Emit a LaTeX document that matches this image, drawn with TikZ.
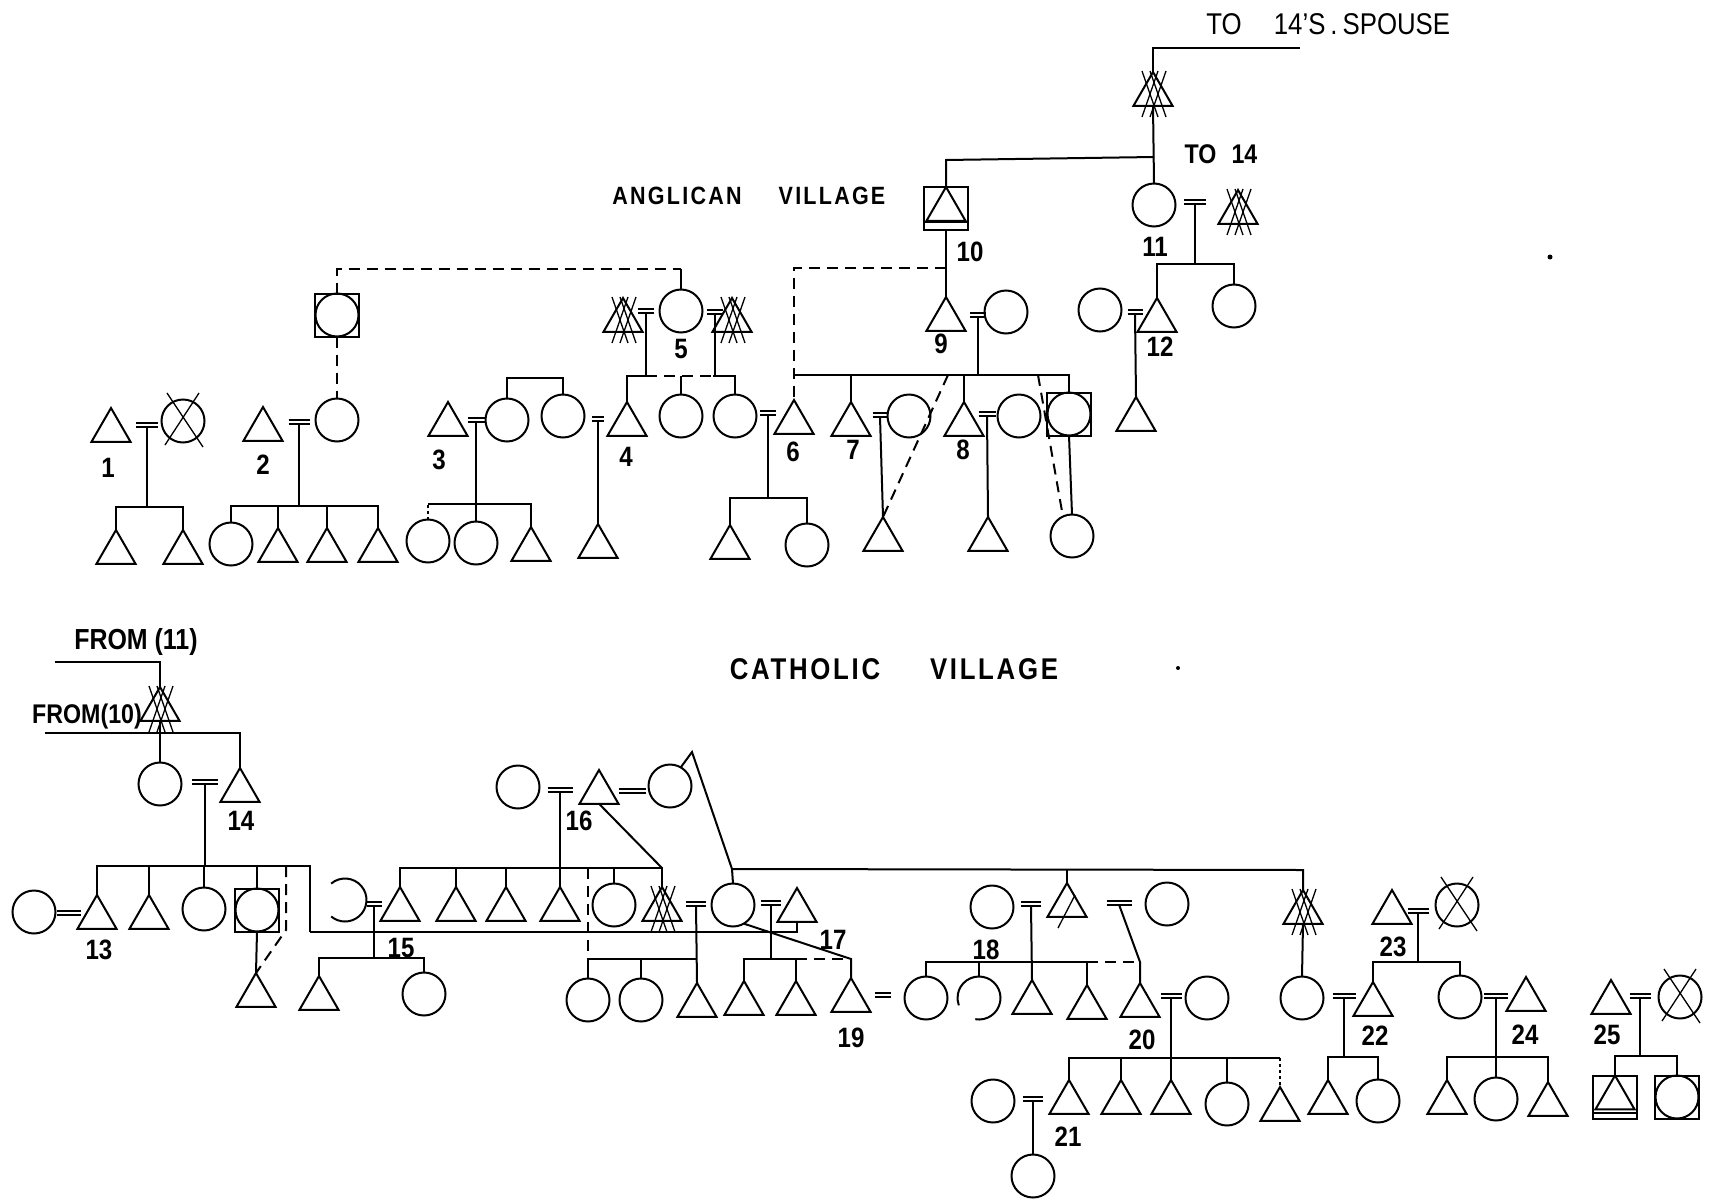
\documentclass[tikz,border=0pt]{standalone}
\usepackage{fontspec}
\setmainfont{Liberation Sans}[FakeStretch=0.86]
\newfontfamily\spacedfont{Liberation Sans}[FakeStretch=0.86,LetterSpace=9]
\usetikzlibrary{shapes.geometric}
\newcommand\marr[4]{\node[mk, minimum width=#4pt] (#1) at (#2,#3) {};
  \draw (#1.north west) -- (#1.north east) (#1.south west) -- (#1.south east);}
\newcommand\mkdx[1]{\draw[xl] ([shift={(-11pt,1pt)}]#1.corner 1) -- ([shift={(5pt,-45pt)}]#1.corner 1)
   ([shift={(5pt,1pt)}]#1.corner 1) -- ([shift={(-11pt,-45pt)}]#1.corner 1)
   ([shift={(-3pt,1pt)}]#1.corner 1) -- ([shift={(13pt,-45pt)}]#1.corner 1)
   ([shift={(13pt,1pt)}]#1.corner 1) -- ([shift={(-3pt,-45pt)}]#1.corner 1);}
\newcommand\mksx[1]{\draw[xl] ([shift={(8pt,-12pt)}]#1.corner 1) -- ([shift={(-9pt,-45pt)}]#1.corner 1);}
\newcommand\mkcx[1]{\draw[xl] ([shift={(-16pt,28pt)}]#1.center) -- ([shift={(20pt,-26pt)}]#1.center)
   ([shift={(16pt,28pt)}]#1.center) -- ([shift={(-18pt,-24pt)}]#1.center);}
\begin{document}
\begin{tikzpicture}[x=1pt,y=-1pt,line width=2pt,
  pers/.style={draw,inner sep=0pt,outer sep=0pt,line width=2pt},
  tri/.style={pers,regular polygon,regular polygon sides=3,minimum size=45pt,anchor=corner 1},
  cir/.style={pers,circle,minimum size=43pt},
  opn/.style={inner sep=0pt,outer sep=0pt,circle,minimum size=43pt},
  sqr/.style={pers,rectangle,minimum width=44pt,minimum height=43pt},
  mk/.style={inner sep=0pt,outer sep=0pt,minimum height=4pt},
  xl/.style={line width=1.3pt},
  dsh/.style={dash pattern=on 11pt off 7pt},
  dot/.style={dash pattern=on 3pt off 3pt},
  lbl/.style={inner sep=0pt,font=\fontsize{28}{30}\selectfont\bfseries},
  ttlA/.style={inner sep=0pt,font=\fontsize{30}{32}\selectfont},
  ttlB/.style={inner sep=0pt,font=\fontsize{27}{29}\selectfont\bfseries},
  ttlV/.style={inner sep=0pt,font=\spacedfont\fontsize{25}{27}\selectfont\bfseries},
  ttlW/.style={inner sep=0pt,font=\spacedfont\fontsize{30}{32}\selectfont\bfseries},
  ttlF/.style={inner sep=0pt,font=\fontsize{29}{31}\selectfont\bfseries},
  ttlG/.style={inner sep=0pt,font=\fontsize{27}{29}\selectfont\bfseries}]
\useasboundingbox (0,0) rectangle (1712,1199);
\fill[white] (0,0) rectangle (1712,1199);

% ================= TOP: ANGLICAN VILLAGE =================
\node[ttlA] (tA1) at (1224,24) {TO};
\node[ttlA] (tA2) at (1362,24) {14'S\,.\,SPOUSE};
\node[ttlB] (tB) at (1221,154) {TO\hspace{15pt}14};
\node[ttlV] (tAng1) at (677,196) {ANGLICAN};
\node[ttlV] (tAng2) at (832,196) {VILLAGE};

\coordinate (sp) at (1300,48);
\node[tri] (xA) at (1153,72) {}; \mkdx{xA}
\draw (sp) -| (xA.corner 1);
\node[cir] (c11) at (1154,205) {};
\draw (xA.south) -- (c11.north);
\coordinate (j11) at (1154,157);
\coordinate (j10) at (946,160);
\node[sqr] (q10) at (946,208.5) {};
\node[tri] (q10t) at (q10.north) {};
\draw ([yshift=8pt]q10.south west) -- ([yshift=8pt]q10.south east);
\draw (j11) -- (j10) -- (q10.north);
\node[lbl] (l10) at (970,252) {10};

\node[tri] (t9) at (946,297) {};
\draw (q10.south) -- (t9.corner 1);
\coordinate (d10) at (946,268);
\node[tri] (t6) at (794,400) {};
\draw[dsh] (d10) -| (t6.corner 1);
\node[cir] (c9w) at (1006,312) {};
\marr{m9}{978}{314.5}{16}
\node[lbl] (l9) at (941,344) {9};
\coordinate (s9a) at (794,375);
\coordinate (s9b) at (1069,375);
\node[sqr] (q9) at (1069,414) {}; \node[cir] (q9c) at (q9) {};
\draw (s9a) -- (s9b) -- (q9.north);
\draw (m9.south) -- (m9.south |- s9a);
\node[tri] (t7) at (851,402) {};
\draw (t7.corner 1 |- s9a) -- (t7.corner 1);
\node[cir] (c7w) at (909,416) {};
\marr{m7}{880}{415}{15}
\node[tri] (t7c) at (883,517) {};
\draw (m7.south) -- (t7c.corner 1);
\coordinate (q7) at (948,375);
\draw[dsh] (q7) -- (t7c.corner 1);
\node[lbl] (l7) at (853,450) {7};
\node[tri] (t8) at (964,402) {};
\draw (t8.corner 1 |- s9a) -- (t8.corner 1);
\node[cir] (c8w) at (1019,416) {};
\marr{m8}{987}{414}{17}
\node[tri] (t8c) at (988,517) {};
\draw (m8.south) -- (t8c.corner 1);
\node[lbl] (l8) at (963,450) {8};
\node[cir] (c9g) at (1072,536) {};
\draw (q9.south) -- (c9g.north);
\coordinate (q8) at (1038,375);
\draw[dsh] (q8) -- (c9g.115);

\node[cir] (c5) at (681,311) {};
\node[lbl] (l5) at (681,349) {5};
\coordinate (k5) at (681,269);
\draw (k5) -- (c5.north);
\node[sqr] (q2) at (337,315) {}; \node[cir] (q2c) at (q2) {};
\draw[dsh] (q2.north) |- (k5);
\node[tri] (xL5) at (623,298) {}; \mkdx{xL5}
\node[tri] (xR5) at (732,298) {}; \mkdx{xR5}
\marr{mL5}{646}{311}{16}
\marr{mR5}{715}{312}{16}
\coordinate (h5b) at (646,376);
\coordinate (h5c) at (713,376);
\node[tri] (t4) at (627,402) {};
\node[cir] (c5m) at (681,416) {};
\node[cir] (c5d) at (735,416) {};
\draw (t4.corner 1) |- (h5b);
\draw[dsh] (h5b) -- (h5c);
\draw (h5c) -| (c5d.north);
\draw (mL5.south) -- (h5b);
\draw (mR5.south) -- (mR5.south |- h5c);
\draw (c5m.north) -- (c5m.north |- h5b);
\node[lbl] (l4) at (626,457) {4};

\marr{m6}{768}{413}{16}
\coordinate (s6a) at (730,498);
\coordinate (s6b) at (807,498);
\node[tri] (t6a) at (730,525) {};
\node[cir] (c6b) at (807,545) {};
\draw (t6a.corner 1) |- (s6b) -- (c6b.north);
\draw (m6.south) -- (m6.south |- s6a);
\node[lbl] (l6) at (793,452) {6};

\node[tri] (t1) at (111,408) {};
\node[cir] (c1w) at (183,421) {}; \mkcx{c1w}
\marr{m1}{147}{424.5}{22}
\coordinate (s1a) at (116,507);
\node[tri] (t1a) at (116,530) {};
\node[tri] (t1b) at (183,530) {};
\draw (t1a.corner 1) |- (t1b.corner 1 |- s1a) -- (t1b.corner 1);
\draw (m1.south) -- (m1.south |- s1a);
\node[lbl] (l1) at (108,468) {1};

\node[tri] (t2) at (263,407) {};
\node[cir] (c2w) at (337,420) {};
\draw[dsh] (q2.south) -- (c2w.north);
\marr{m2}{299}{421.5}{21}
\coordinate (s2) at (229,506);
\node[cir] (c2a) at (231,544) {};
\node[tri] (t2b) at (278,528) {};
\node[tri] (t2c) at (327,528) {};
\node[tri] (t2d) at (378,528) {};
\draw (c2a.north) |- (t2d.corner 1 |- s2) -- (t2d.corner 1);
\draw (t2b.corner 1) -- (t2b.corner 1 |- s2);
\draw (t2c.corner 1) -- (t2c.corner 1 |- s2);
\draw (m2.south) -- (m2.south |- s2);
\node[lbl] (l2) at (263,465) {2};

\node[tri] (t3) at (448,402) {};
\node[cir] (c3w) at (507,420) {};
\node[cir] (c3s) at (563,416) {};
\coordinate (g3) at (535,378);
\draw (c3w.north) |- (g3) -| (c3s.north);
\marr{m3}{476}{420}{17}
\coordinate (s3) at (428,504);
\node[cir] (c3a) at (428,541) {};
\node[cir] (c3b) at (476,543) {};
\node[tri] (t3c) at (531,527) {};
\draw[dot] (c3a.north) -- (c3a.north |- s3);
\draw (c3a.north |- s3) -| (t3c.corner 1);
\draw (m3.south) -- (c3b.north);
\node[lbl] (l3) at (439,460) {3};
\marr{mC}{598}{419}{12}
\node[tri] (tC) at (598,524) {};
\draw (mC.south) -- (tC.corner 1);

\node[tri] (xB) at (1238,190) {}; \mkdx{xB}
\marr{m11}{1195}{202}{22}
\coordinate (s11) at (1157,264);
\node[tri] (t12) at (1157,298) {};
\node[cir] (c11b) at (1234,306) {};
\draw (t12.corner 1) |- (c11b.north |- s11) -- (c11b.north);
\draw (m11.south) -- (m11.south |- s11);
\node[lbl] (l11) at (1155,247) {11};
\node[cir] (c12w) at (1100,310) {};
\marr{m12}{1135}{312}{15}
\node[tri] (t12c) at (1136,397) {};
\draw (m12.south) -- (t12c.corner 1);
\node[lbl] (l12) at (1160,347) {12};
\fill (1550,257) circle[radius=2.5pt];

% ================= BOTTOM: CATHOLIC VILLAGE =================
\node[ttlW] (tCat1) at (805,669) {CATHOLIC};
\node[ttlW] (tCat2) at (994,669) {VILLAGE};
\fill (1178,668) circle[radius=2pt];

\node[ttlF] (tF1) at (136,642) {FROM (11)};
\coordinate (f11) at (55,662);
\node[tri] (xC) at (160,687) {}; \mkdx{xC}
\draw (f11) -| (xC.corner 1);
\node[ttlG] (tF2) at (87,717) {FROM(10)};
\coordinate (f10) at (45,733);
\node[cir] (c14w) at (160,784) {};
\node[tri] (t14) at (240,768) {};
\draw (f10) -| (t14.corner 1);
\draw (xC.south) -- (c14w.north);
\marr{m14}{205}{782}{26}
\node[lbl] (l14) at (241,821) {14};
\coordinate (s14a) at (97,866);
\coordinate (s14b) at (310,866);
\coordinate (s14c) at (310,932);
\node[tri] (t13) at (97,895) {};
\node[tri] (t14b) at (149,895) {};
\node[cir] (c14c) at (204,909) {};
\node[sqr] (q14) at (257,910) {}; \node[cir] (q14c) at (q14) {};
\draw (t13.corner 1) |- (s14b) -- (s14c);
\draw (t14b.corner 1) -- (t14b.corner 1 |- s14a);
\draw (c14c.north) -- (c14c.north |- s14a);
\draw (q14.north) -- (q14.north |- s14a);
\draw (m14.south) -- (m14.south |- s14a);
\node[tri] (t14d) at (256,973) {};
\draw (q14.south) -- (t14d.corner 1);
\coordinate (s14d) at (286,866);
\coordinate (s14e) at (286,930);
\draw[dsh] (s14d) -- (s14e) -- (t14d.corner 1);
\node[cir] (c13w) at (34,912) {};
\marr{m13}{69}{912.5}{24}
\node[lbl] (l13) at (99,950) {13};

\node[opn] (c15w) at (345,900) {};
\draw ([shift={(130:21.5pt)}]c15w.center) arc[start angle=130,end angle=-130,radius=21.5pt];
\marr{m15}{374}{903.5}{15}
\coordinate (s15) at (319,958);
\node[tri] (t15a) at (319,976) {};
\node[cir] (c15b) at (424,994) {};
\draw (t15a.corner 1) |- (c15b.north |- s15) -- (c15b.north);
\draw (m15.south) -- (m15.south |- s15);
\node[lbl] (l15) at (401,948) {15};

\node[cir] (c16w1) at (518,787) {};
\marr{m16a}{560}{790}{25}
\node[tri] (t16) at (599,770) {};
\marr{m16b}{632}{791}{27}
\node[cir] (c16w2) at (670,786) {};
\node[lbl] (l16) at (579,821) {16};
\coordinate (jA) at (400,868);
\coordinate (jD) at (662,868);
\node[tri] (t16a) at (400,887) {};
\node[tri] (t16b) at (456,887) {};
\node[tri] (t16c) at (506,887) {};
\node[tri] (t16d) at (560,887) {};
\node[cir] (c16e) at (614,905) {};
\node[tri] (xD) at (662,887) {}; \mkdx{xD}
\draw (t16a.corner 1) -- (jA) -- (jD) -- (xD.corner 1);
\draw (t16b.corner 1) -- (t16b.corner 1 |- jA);
\draw (t16c.corner 1) -- (t16c.corner 1 |- jA);
\draw (m16a.south) -- (t16d.corner 1);
\draw (c16e.north) -- (c16e.north |- jA);
\draw (t16.south) -- (jD);

\coordinate (s19m) at (588,959);
\coordinate (jA2) at (588,868);
\draw[dsh] (jA2) -- (s19m);
\node[cir] (c19a) at (588,1000) {};
\node[cir] (c19b) at (641,1000) {};
\node[tri] (t19c) at (697,983) {};
\draw (c19a.north) -- (s19m) -- (t19c.corner 1 |- s19m);
\draw (c19b.north) -- (c19b.north |- s19m);
\marr{mD}{696}{903.5}{20}
\draw (mD.south) -- (t19c.corner 1);
\node[cir] (c17w) at (733,905) {};
\marr{m17}{771}{903}{20}
\node[tri] (t17) at (797,888) {};
\coordinate (s17low) at (797,932);
\draw (s14c) -- (s17low) -- (t17.south);
\node[lbl] (l17) at (833,940) {17};
\coordinate (s17a) at (744,959);
\coordinate (s17b) at (796,959);
\coordinate (s17c) at (851,959);
\node[tri] (t19d) at (744,981) {};
\node[tri] (t19e) at (796,981) {};
\node[tri] (t19) at (851,978) {};
\draw (t19d.corner 1) -- (s17a) -- (s17b) -- (t19e.corner 1);
\draw[dsh] (s17b) -- (s17c);
\draw (c17w.-60) -- (s17c) -- (t19.corner 1);
\draw (m17.south) -- (m17.south |- s17a);
\marr{m19}{883}{995}{16}
\node[lbl] (l19) at (851,1038) {19};

\node[tri] (xE) at (1303,890) {}; \mkdx{xE}
\coordinate (pk) at (692,752);
\coordinate (jE) at (732,869);
\coordinate (jF) at (1303,870);
\draw (c16w2.60) -- (pk) -- (jE) -- (jF) -- (xE.corner 1);
\draw (jE) -- (c17w.north);

\node[tri] (t18) at (1067,883) {}; \mksx{t18}
\draw (t18.corner 1 |- jE) -- (t18.corner 1);
\node[cir] (c18w) at (992,907) {};
\marr{m18}{1031}{903.5}{20}
\marr{m18b}{1119}{902.5}{25}
\node[cir] (c18r) at (1167,904) {};
\node[lbl] (l18) at (986,950) {18};
\coordinate (s18a) at (926,962);
\coordinate (s18b) at (1087,962);
\coordinate (s18c) at (1140,962);
\node[cir] (c18a) at (926,998) {};
\node[opn] (c18b) at (979,998) {};
\draw ([shift={(-100:21.5pt)}]c18b.center) arc[start angle=-100,end angle=200,radius=21.5pt];
\node[tri] (t18c) at (1032,980) {};
\node[tri] (t18d) at (1087,985) {};
\node[tri] (t20) at (1140,983) {};
\draw (c18a.north) -- (s18a) -- (s18b) -- (t18d.corner 1);
\draw[dsh] (s18b) -- (s18c);
\draw (c18b.north) -- (c18b.north |- s18a);
\draw (m18.south) -- (t18c.corner 1);
\draw (m18b.south) -- (s18c) -- (t20.corner 1);

\marr{m20}{1171}{995.5}{21}
\node[cir] (c20w) at (1207,998) {};
\node[lbl] (l20) at (1142,1040) {20};
\coordinate (s20a) at (1069,1058);
\coordinate (s20b) at (1280,1058);
\node[tri] (t21) at (1069,1080) {};
\node[tri] (t20b) at (1121,1080) {};
\node[tri] (t20c) at (1171,1080) {};
\node[cir] (c20d) at (1227,1104) {};
\node[tri] (t20e) at (1280,1087) {};
\draw (t21.corner 1) -- (s20a) -- (s20b);
\draw[dot] (s20b) -- (t20e.corner 1);
\draw (t20b.corner 1) -- (t20b.corner 1 |- s20a);
\draw (m20.south) -- (t20c.corner 1);
\draw (c20d.north) -- (c20d.north |- s20a);

\node[cir] (c21w) at (993,1101) {};
\marr{m21}{1033}{1099}{20}
\node[cir] (c21c) at (1033,1176) {};
\draw (m21.south) -- (c21c.north);
\node[lbl] (l21) at (1068,1137) {21};

\node[cir] (c22w) at (1302,998) {};
\draw (xE.south) -- (c22w.north);
\marr{m22}{1344}{995.5}{23}
\node[tri] (t22) at (1373,982) {};
\node[lbl] (l22) at (1375,1036) {22};
\coordinate (s22) at (1328,1057);
\node[tri] (t22a) at (1328,1080) {};
\node[cir] (c22b) at (1378,1101) {};
\draw (t22a.corner 1) |- (c22b.north |- s22) -- (c22b.north);
\draw (m22.south) -- (m22.south |- s22);

\node[tri] (t23) at (1392,890) {};
\marr{m23}{1418}{910.5}{21}
\node[cir] (c23w) at (1457,905) {}; \mkcx{c23w}
\node[lbl] (l23) at (1393,947) {23};
\coordinate (s23) at (1373,962);
\node[cir] (c24w) at (1460,997) {};
\draw (t22.corner 1) |- (c24w.north |- s23) -- (c24w.north);
\draw (m23.south) -- (m23.south |- s23);

\marr{m24}{1496}{995.5}{24}
\node[tri] (t24) at (1526,977) {};
\node[lbl] (l24) at (1525,1035) {24};
\coordinate (s24) at (1447,1057);
\node[tri] (t24a) at (1447,1080) {};
\node[cir] (c24b) at (1496,1099) {};
\node[tri] (t24c) at (1548,1082) {};
\draw (t24a.corner 1) |- (t24c.corner 1 |- s24) -- (t24c.corner 1);
\draw (m24.south) -- (c24b.north);

\node[tri] (t25) at (1611,980) {};
\marr{m25}{1640}{995.5}{21}
\node[cir] (c25w) at (1680,997) {}; \mkcx{c25w}
\node[lbl] (l25) at (1607,1035) {25};
\coordinate (s25) at (1615,1056);
\node[sqr] (q25a) at (1615,1097) {};
\node[tri] (q25t) at (q25a.north) {};
\draw ([yshift=6pt]q25a.south west) -- ([yshift=6pt]q25a.south east);
\node[sqr] (q25b) at (1677,1097) {}; \node[cir] (q25c) at (q25b) {};
\draw (q25a.north) |- (q25b.north |- s25) -- (q25b.north);
\draw (m25.south) -- (m25.south |- s25);
\end{tikzpicture}
\end{document}
